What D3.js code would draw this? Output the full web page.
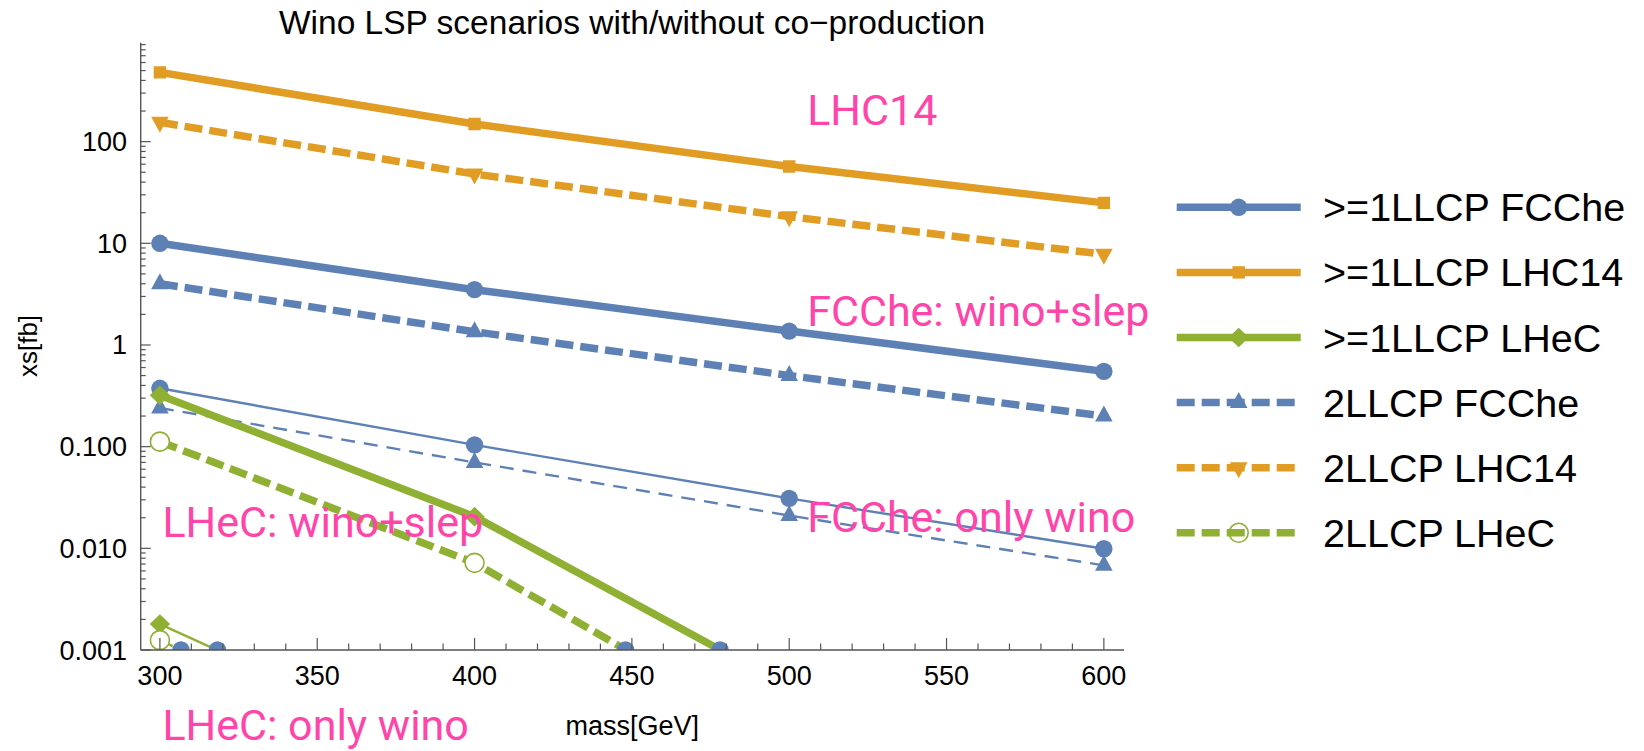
<!DOCTYPE html>
<html>
<head>
<meta charset="utf-8">
<script src="https://cdn.jsdelivr.net/npm/d3@7"></script>
<style>
  html, body { margin: 0; padding: 0; background: #fff; }
  svg { display: block; }
</style>
</head>
<body>
<svg id="chart" width="1644" height="751"></svg>
<script>
// ---------------- data ----------------
const masses = [300, 400, 500, 600];
// with slepton co-production (thick lines)
const fcche1WinoSlep = [10, 3.5, 1.37, 0.55];
const lhc14One       = [480, 149, 57, 25];
const lhec1WinoSlep  = [0.32, 0.0205, 0.00043];
const fcche2WinoSlep = [4.0, 1.35, 0.5, 0.2];
const lhc14Two       = [155, 48, 18.3, 7.8];
const lhec2WinoSlep  = [0.112, 0.0072, 0.00012];
// only wino (thin lines)
const fcche1Wino = [0.375, 0.104, 0.031, 0.0099];
const fcche2Wino = [0.24, 0.07, 0.021, 0.0068];
const lhec1Wino  = [0.0018, 0.00007];
const lhec2Wino  = [0.00125, 0.000045];
// points where curves leave the plot range (drawn on lower edge)
const edgeMasses = [306.7, 318.3, 448, 478];
const edgeValue = 0.001;

const xTicks = [300, 350, 400, 450, 500, 550, 600];
const yTicks = [0.001, 0.01, 0.1, 1, 10, 100];
const yTickLabels = ["0.001", "0.010", "0.100", "1", "10", "100"];

const legendLabels = [">=1LLCP FCChe", ">=1LLCP LHC14", ">=1LLCP LHeC",
                      "2LLCP FCChe", "2LLCP LHC14", "2LLCP LHeC"];
const titleText = "Wino LSP scenarios with/without co\u2212production";
const annotationTexts = ["LHC14", "FCChe: wino+slep", "FCChe: only wino",
                         "LHeC: wino+slep", "LHeC: only wino"];
const annotationMass = [505.7, 505.7, 505.7, 300.8, 300.8];
const annotationValue = [146, 1.54, 0.0146, 0.0130, 0.000131];

// ---------------- styles ----------------
const BLUE = "#5E81B5", ORANGE = "#E19C24", GREEN = "#8FB032", PINK = "#FF44AA";
const THICK = 7.5, THIN = 2.4;
const DASH_THICK = "18,7", DASH_THIN = "14,9";

const seriesList = [
  {vals: fcche1Wino, color: BLUE, w: THIN, dash: null, marker: "circle"},
  {vals: fcche2Wino, color: BLUE, w: THIN, dash: DASH_THIN, marker: "triUp"},
  {vals: lhec1Wino,  color: GREEN, w: THIN, dash: null, marker: "diamond"},
  {vals: lhec2Wino,  color: GREEN, w: THIN, dash: DASH_THIN, marker: "openCircle"},
  {vals: fcche1WinoSlep, color: BLUE, w: THICK, dash: null, marker: "circle"},
  {vals: lhc14One,       color: ORANGE, w: THICK, dash: null, marker: "square"},
  {vals: lhec1WinoSlep,  color: GREEN, w: THICK, dash: null, marker: "diamond"},
  {vals: fcche2WinoSlep, color: BLUE, w: THICK, dash: DASH_THICK, marker: "triUp"},
  {vals: lhc14Two,       color: ORANGE, w: THICK, dash: DASH_THICK, marker: "triDown"},
  {vals: lhec2WinoSlep,  color: GREEN, w: THICK, dash: DASH_THICK, marker: "openCircle"}
];
const legendSeries = [4, 5, 6, 7, 8, 9];

// ---------------- layout ----------------
const svg = d3.select("#chart");
const x = d3.scaleLinear().domain([293.9, 606.4]).range([140.7, 1124]);
const y = d3.scaleLog().domain([0.001, 940]).range([650, 42.7]);
const [x0, x1] = x.range();
const [yB, yT] = y.range();

svg.append("defs").append("clipPath").attr("id", "clip")
  .append("rect").attr("x", x0).attr("y", yT).attr("width", x1 - x0).attr("height", yB - yT);

function markerPath(type) {
  switch (type) {
    case "circle": case "openCircle":
      return d3.symbol(d3.symbolCircle, Math.PI * (type === "circle" ? 8.7 * 8.7 : 9.5 * 9.5))();
    case "square":
      return "M-6.2,-6.2H6.2V6.2H-6.2Z";
    case "triUp":
      return "M0,-10.5L8.8,5.5L-8.8,5.5Z";
    case "triDown":
      return "M0,10.5L8.8,-5.5L-8.8,-5.5Z";
    case "diamond":
      return "M0,-9.8L10.2,0L0,9.8L-10.2,0Z";
  }
}
function drawMarker(g, type, color, cx, cy, inPlot) {
  const p = g.append("path").attr("d", markerPath(type))
    .attr("transform", `translate(${cx},${cy})`);
  if (type === "openCircle") {
    p.attr("fill", inPlot ? "#fff" : "none").attr("stroke", color).attr("stroke-width", 1.6);
  } else {
    p.attr("fill", color);
  }
}

// ---------------- plot data ----------------
const plot = svg.append("g").attr("clip-path", "url(#clip)");
const line = d3.line().x(d => x(d[0])).y(d => y(d[1]));

seriesList.forEach(s => {
  const pts = s.vals.map((v, i) => [masses[i], v]);
  plot.append("path").datum(pts).attr("d", line)
    .attr("fill", "none").attr("stroke", s.color).attr("stroke-width", s.w)
    .attr("stroke-dasharray", s.dash).attr("stroke-linejoin", "round");
  pts.forEach(p => drawMarker(plot, s.marker, s.color, x(p[0]), y(p[1]), true));
});
edgeMasses.forEach(m => drawMarker(plot, "circle", BLUE, x(m), y(edgeValue), true));

// ---------------- axes ----------------
const axisColor = "#555";
const ax = svg.append("g");
ax.append("line").attr("x1", x0).attr("x2", x1).attr("y1", yB).attr("y2", yB)
  .attr("stroke", axisColor).attr("stroke-width", 1.4);
ax.append("line").attr("x1", x0).attr("x2", x0).attr("y1", yB).attr("y2", yT)
  .attr("stroke", axisColor).attr("stroke-width", 1.4);

// x ticks
const xMinor = d3.range(300, 601, 10).filter(v => !xTicks.includes(v));
xMinor.forEach(v => ax.append("line").attr("x1", x(v)).attr("x2", x(v))
  .attr("y1", yB).attr("y2", yB - 6.5).attr("stroke", axisColor).attr("stroke-width", 1.2));
xTicks.forEach(v => {
  ax.append("line").attr("x1", x(v)).attr("x2", x(v))
    .attr("y1", yB).attr("y2", yB - 12).attr("stroke", axisColor).attr("stroke-width", 1.2);
  ax.append("text").attr("x", x(v)).attr("y", 685).attr("text-anchor", "middle")
    .attr("font-family", "Liberation Sans, Arial, sans-serif").attr("font-size", 27)
    .text(v);
});

// y ticks
const yMinor = [];
[-3, -2, -1, 0, 1, 2].forEach(e => { for (let k = 2; k <= 9; k++) yMinor.push(k * Math.pow(10, e)); });
yMinor.filter(v => v <= 940).forEach(v => ax.append("line")
  .attr("x1", x0).attr("x2", x0 + 5).attr("y1", y(v)).attr("y2", y(v))
  .attr("stroke", axisColor).attr("stroke-width", 1.2));
yTicks.forEach((v, i) => {
  ax.append("line").attr("x1", x0).attr("x2", x0 + 10).attr("y1", y(v)).attr("y2", y(v))
    .attr("stroke", axisColor).attr("stroke-width", 1.2);
  ax.append("text").attr("x", 127).attr("y", y(v) + 9.5).attr("text-anchor", "end")
    .attr("font-family", "Liberation Sans, Arial, sans-serif").attr("font-size", 27)
    .text(yTickLabels[i]);
});

// axis labels & title
svg.append("text").attr("transform", "translate(37,346) rotate(-90)")
  .attr("text-anchor", "middle").attr("font-family", "Liberation Sans, Arial, sans-serif")
  .attr("font-size", 26).text("xs[fb]");
svg.append("text").attr("x", (x0 + x1) / 2).attr("y", 735).attr("text-anchor", "middle")
  .attr("font-family", "Liberation Sans, Arial, sans-serif").attr("font-size", 27)
  .text("mass[GeV]");
svg.append("text").attr("x", 632).attr("y", 34).attr("text-anchor", "middle")
  .attr("font-family", "Liberation Sans, Arial, sans-serif").attr("font-size", 33.5)
  .text(titleText);

// annotations
annotationTexts.forEach((t, i) => {
  svg.append("text").attr("x", x(annotationMass[i])).attr("y", y(annotationValue[i]))
    .attr("font-family", "Roboto, sans-serif").attr("font-size", 43)
    .attr("fill", PINK).text(t);
});

// ---------------- legend ----------------
const lg = svg.append("g");
legendSeries.forEach((si, i) => {
  const s = seriesList[si];
  const ly = 207.3 + 65.1 * i;
  lg.append("line").attr("x1", 1176.7).attr("x2", 1300.7).attr("y1", ly).attr("y2", ly)
    .attr("stroke", s.color).attr("stroke-width", THICK).attr("stroke-dasharray", s.dash);
  drawMarker(lg, s.marker, s.color, 1238.7, ly, false);
  lg.append("text").attr("x", 1323).attr("y", ly + 14)
    .attr("font-family", "Liberation Sans, Arial, sans-serif").attr("font-size", 39.5)
    .text(legendLabels[i]);
});
</script>
</body>
</html>
